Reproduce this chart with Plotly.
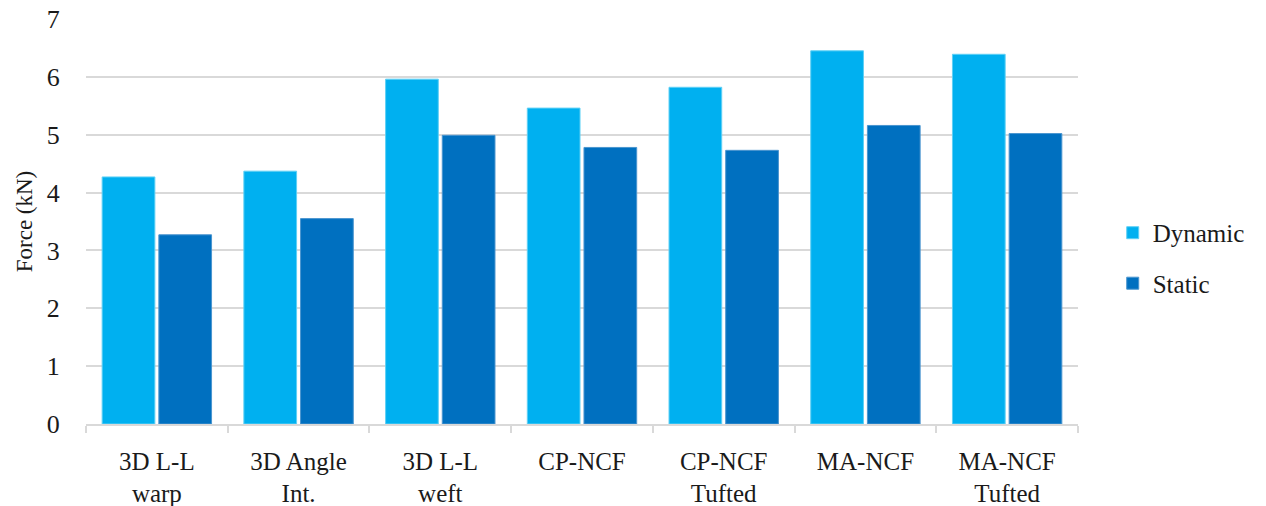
import plotly.graph_objects as go

categories = ["3D L-L<br>warp", "3D Angle<br>Int.", "3D L-L<br>weft", "CP-NCF",
              "CP-NCF<br>Tufted", "MA-NCF", "MA-NCF<br>Tufted"]
dynamic = [4.27, 4.37, 5.96, 5.46, 5.82, 6.45, 6.39]
static = [3.27, 3.55, 4.99, 4.78, 4.73, 5.16, 5.02]
y_ticks = [0, 1, 2, 3, 4, 5, 6, 7]

FONT = "Liberation Serif"

fig = go.Figure()
fig.add_trace(go.Bar(name="Dynamic", x=categories, y=dynamic, legendgroup="d",
                     marker=dict(color="#00B0F0", line=dict(color="#5FD0F5", width=1))))
fig.add_trace(go.Bar(name="Static", x=categories, y=static, legendgroup="s",
                     marker=dict(color="#0070C0", line=dict(color="#4A95CF", width=1))))

fig.update_layout(
    width=1266, height=506,
    margin=dict(l=86, r=188, t=19, b=82, autoexpand=False),
    paper_bgcolor="white", plot_bgcolor="white",
    barmode="group", bargap=0.2, bargroupgap=0.07,
    font=dict(family=FONT, size=24, color="#1a1a1a"),
    legend=dict(x=1.035, xanchor="left", y=0.41, yanchor="middle",
                font=dict(family=FONT, size=25, color="#1a1a1a"),
                traceorder="grouped", tracegroupgap=15, itemwidth=30),
    xaxis=dict(showline=True, linecolor="#D9D9D9", linewidth=1.5, automargin=False,
               ticks="outside", tickson="boundaries", ticklen=7, tickcolor="#D9D9D9",
               tickwidth=1.5, tickfont=dict(family=FONT, size=25, color="#1a1a1a"),
               ticklabelstandoff=14, showgrid=False),
    yaxis=dict(range=[0, 7], tickvals=y_ticks, showgrid=True, gridcolor="#D9D9D9",
               gridwidth=1.5, zeroline=False, showline=False, automargin=False,
               ticks="outside", ticklen=20, tickcolor="rgba(0,0,0,0)",
               tickfont=dict(family=FONT, size=26, color="#1a1a1a"),
               title=dict(text="Force (kN)", font=dict(family=FONT, size=23, color="#1a1a1a"),
                          standoff=7)),
)

fig.write_html("out.html")
